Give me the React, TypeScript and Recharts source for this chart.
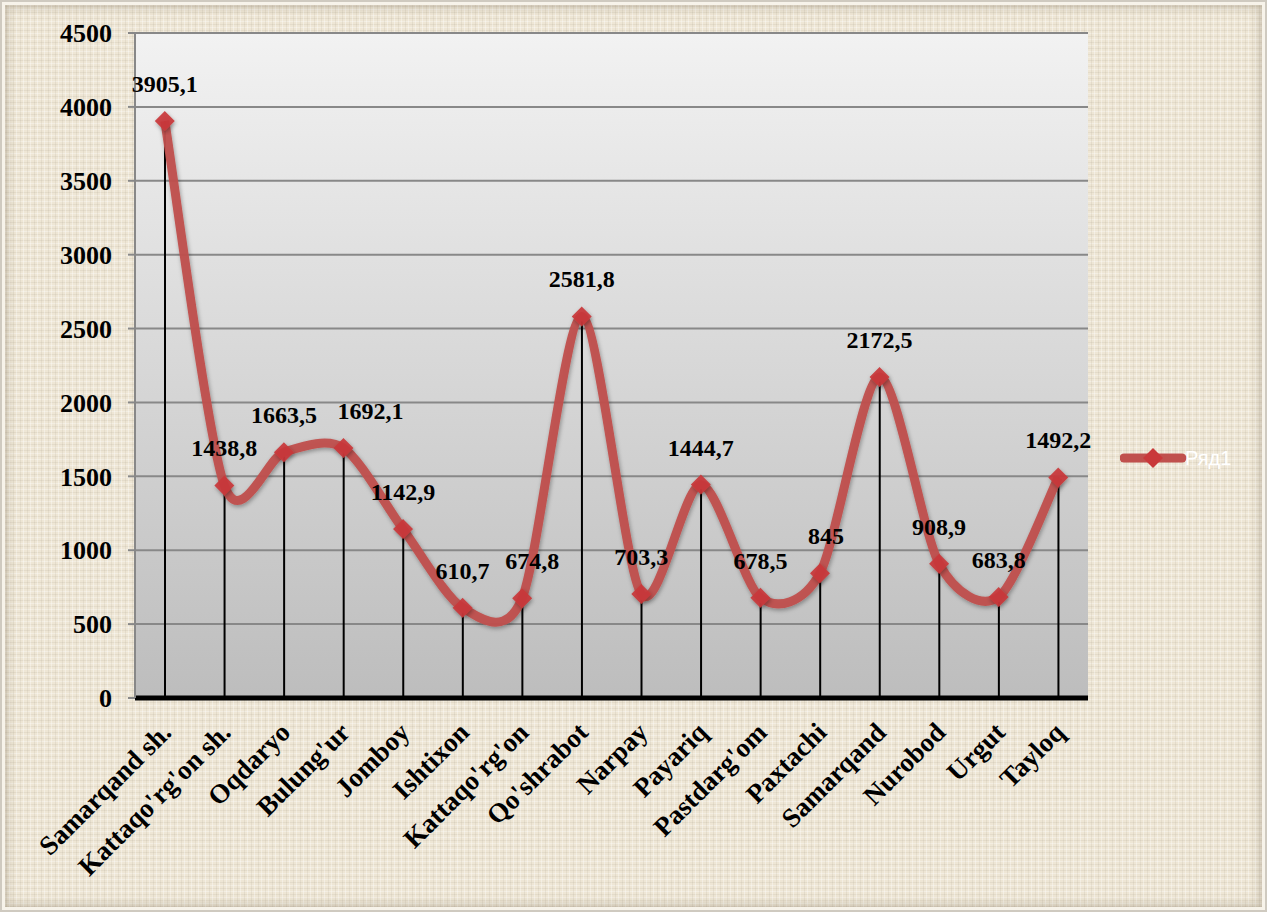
import React from "react";
import {
  ComposedChart,
  Line,
  Bar,
  XAxis,
  YAxis,
  CartesianGrid,
  Legend,
  LabelList,
} from "recharts";

const districts = [
  "Samarqand sh.",
  "Kattaqo'rg'on sh.",
  "Oqdaryo",
  "Bulung'ur",
  "Jomboy",
  "Ishtixon",
  "Kattaqo'rg'on",
  "Qo'shrabot",
  "Narpay",
  "Payariq",
  "Pastdarg'om",
  "Paxtachi",
  "Samarqand",
  "Nurobod",
  "Urgut",
  "Tayloq",
];

const values = [
  3905.1, 1438.8, 1663.5, 1692.1, 1142.9, 610.7, 674.8, 2581.8, 703.3, 1444.7,
  678.5, 845, 2172.5, 908.9, 683.8, 1492.2,
];

const yTicks = [0, 500, 1000, 1500, 2000, 2500, 3000, 3500, 4000, 4500];

const seriesName = "Ряд1";

const data = districts.map((name, i) => ({ name, value: values[i] }));

// labels nudged sideways in the original (Excel moved them off each other)
const labelNudge: Record<number, number> = { 3: 27, 6: 10, 11: 6 };

const RED = "#c0504d";
const SERIF = "'Liberation Serif', 'Times New Roman', serif";
const SMOOTH = 0.14;

// Excel-like smoothed line (cardinal spline through the points)
const smoothCurve = (context: any) => {
  let pts: [number, number][] = [];
  return {
    areaStart() {},
    areaEnd() {},
    lineStart() {
      pts = [];
    },
    point(x: number, y: number) {
      pts.push([+x, +y]);
    },
    lineEnd() {
      if (!pts.length) return;
      context.moveTo(pts[0][0], pts[0][1]);
      for (let i = 0; i < pts.length - 1; i++) {
        const p0 = pts[i - 1] || pts[i];
        const p1 = pts[i];
        const p2 = pts[i + 1];
        const p3 = pts[i + 2] || p2;
        context.bezierCurveTo(
          p1[0] + (p2[0] - p0[0]) * SMOOTH,
          p1[1] + (p2[1] - p0[1]) * SMOOTH,
          p2[0] - (p3[0] - p1[0]) * SMOOTH,
          p2[1] - (p3[1] - p1[1]) * SMOOTH,
          p2[0],
          p2[1]
        );
      }
    },
  };
};

const Diamond = (props: any) => {
  const { cx, cy, index } = props;
  if (cx == null || cy == null) return null;
  const r = 10;
  return (
    <polygon
      key={`d-${index}`}
      points={`${cx},${cy - r} ${cx + r},${cy} ${cx},${cy + r} ${cx - r},${cy}`}
      fill="#c9383a"
      fillOpacity={0.92}
      filter="url(#softShadow)"
    />
  );
};

const ValueLabel = (props: any) => {
  const { x, y, width, value, index } = props;
  const cx = x + (width || 0) / 2 + (labelNudge[index] || 0);
  return (
    <text
      x={cx}
      y={y - 29}
      textAnchor="middle"
      fontFamily={SERIF}
      fontWeight="bold"
      fontSize={24}
      fill="#000"
    >
      {String(value).replace(".", ",")}
    </text>
  );
};

const XTick = (props: any) => {
  const { x, y, payload } = props;
  const ax = x + 8;
  const ay = y + 28;
  return (
    <text
      x={ax}
      y={ay}
      transform={`rotate(-45 ${ax} ${ay})`}
      textAnchor="end"
      fontFamily={SERIF}
      fontWeight="bold"
      fontSize={27}
      fill="#000"
    >
      {payload.value}
    </text>
  );
};

const LegendContent = () => (
  <svg width={140} height={26}>
    <line x1={4} y1={13} x2={62} y2={13} stroke={RED} strokeWidth={9} strokeLinecap="round" />
    <polygon points="33,3 43,13 33,23 23,13" fill="#c9383a" />
    <text x={65} y={20} fill="#fff" fontFamily="'Liberation Sans', Arial, sans-serif" fontSize={20}>
      {seriesName}
    </text>
  </svg>
);

export default function App() {
  return (
    <div
      style={{
        width: 1267,
        height: 912,
        position: "relative",
        boxSizing: "border-box",
        border: "2px solid #cfcac0",
        boxShadow: "inset 0 0 0 3px #f7f3ea, inset 0 0 10px 5px rgba(120,110,90,0.35)",
        backgroundColor: "#eee6d5",
        backgroundImage:
          "repeating-linear-gradient(90deg, rgba(255,255,255,0.35) 0 1px, transparent 1px 4px, rgba(150,140,120,0.12) 4px 5px, transparent 5px 7px), repeating-linear-gradient(0deg, rgba(255,255,255,0.3) 0 1px, transparent 1px 3px, rgba(150,140,120,0.12) 3px 4px, transparent 4px 6px)",
      }}
    >
      <style>{`body{margin:0}`}</style>
      <div style={{ position: "absolute", left: -2, top: -2 }}>
        <ComposedChart
          width={1267}
          height={912}
          data={data}
          margin={{ top: 33, right: 39, left: 0, bottom: 0 }}
        >
          <defs>
            <linearGradient id="plotBg" x1="0" y1="0" x2="0" y2="1">
              <stop offset="0%" stopColor="#f2f2f2" />
              <stop offset="100%" stopColor="#bdbdbd" />
            </linearGradient>
            <filter id="softShadow" x="-20%" y="-20%" width="140%" height="140%">
              <feDropShadow dx="1" dy="2" stdDeviation="2" floodColor="#000" floodOpacity="0.35" />
            </filter>
          </defs>
          <CartesianGrid
            vertical={false}
            stroke="#888888"
            strokeWidth={2}
            fill="url(#plotBg)"
            fillOpacity={1}
          />
          <XAxis
            dataKey="name"
            interval={0}
            height={214}
            tickLine={false}
            axisLine={{ stroke: "#000", strokeWidth: 5 }}
            tick={<XTick />}
          />
          <XAxis
            xAxisId="top"
            dataKey="name"
            orientation="top"
            height={0}
            tick={false}
            tickLine={false}
            axisLine={{ stroke: "#000", strokeWidth: 2 }}
          />
          <YAxis
            width={135}
            domain={[0, 4500]}
            ticks={yTicks}
            interval={0}
            tickSize={7}
            tickMargin={16}
            tickLine={{ stroke: "#888888", strokeWidth: 2 }}
            axisLine={{ stroke: "#888888", strokeWidth: 2 }}
            tick={{ fontFamily: SERIF, fontWeight: "bold", fontSize: 26, fill: "#000" }}
          />
          <YAxis
            yAxisId="right"
            orientation="right"
            width={0}
            domain={[0, 4500]}
            tick={false}
            tickLine={false}
            axisLine={{ stroke: "#000", strokeWidth: 2 }}
          />
          <Legend
            layout="horizontal"
            verticalAlign="middle"
            align="right"
            content={<LegendContent />}
            wrapperStyle={{ left: 1120, top: 445, width: 140, height: 26 }}
          />
          <Line
            dataKey="value"
            name={seriesName}
            type={smoothCurve as any}
            stroke={RED}
            strokeWidth={9}
            strokeOpacity={0.95}
            filter="url(#softShadow)"
            dot={<Diamond />}
            activeDot={false}
            isAnimationActive={false}
          >
            <LabelList dataKey="value" content={<ValueLabel />} />
          </Line>
          <Bar
            dataKey="value"
            barSize={2}
            fill="#000"
            legendType="none"
            isAnimationActive={false}
          />
        </ComposedChart>
      </div>
    </div>
  );
}
